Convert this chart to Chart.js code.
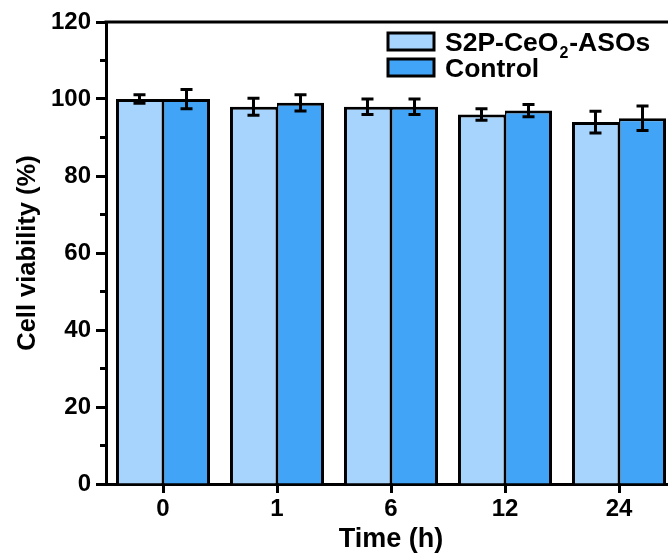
<!DOCTYPE html>
<html>
<head>
<meta charset="utf-8">
<script src="https://cdn.jsdelivr.net/npm/chart.js@4/dist/chart.umd.min.js"></script>
<style>
html,body{margin:0;padding:0;background:#fff;overflow:hidden;width:668px;height:559px;}
#wrap{width:700px;height:559px;}
</style>
</head>
<body>
<div id="wrap"><canvas id="c" width="700" height="559"></canvas></div>
<script>
const categories = ['0', '1', '6', '12', '24'];
const s2pValues = [100, 98, 98, 96, 94];
const s2pErrors = [1.1, 2.2, 2.0, 1.5, 2.8];
const controlValues = [100, 99, 98, 97, 95];
const controlErrors = [2.5, 2.1, 2.0, 1.6, 3.2];
const yTicks = [0, 20, 40, 60, 80, 100, 120];
const yMinorTicks = [10, 30, 50, 70, 90, 110];
const legendLabels = [['S2P-CeO', '2', '-ASOs'], ['Control']];

const LIGHT = '#a7d4fc';
const DARK = '#41a4f7';
const FONT = "'Liberation Sans', Arial, sans-serif";

const errorBars = {
  id: 'errorBars',
  afterDatasetsDraw(chart) {
    const ctx = chart.ctx;
    const y = chart.scales.y;
    const errs = [s2pErrors, controlErrors];
    ctx.save();
    ctx.strokeStyle = '#000';
    ctx.lineWidth = 3;
    chart.data.datasets.forEach((ds, di) => {
      const meta = chart.getDatasetMeta(di);
      meta.data.forEach((bar, i) => {
        const v = ds.data[i], e = errs[di][i];
        const x = bar.x;
        const yt = y.getPixelForValue(v + e), yb = y.getPixelForValue(v - e);
        ctx.beginPath();
        ctx.moveTo(x, yt); ctx.lineTo(x, yb);
        ctx.moveTo(x - 6, yt); ctx.lineTo(x + 6, yt);
        ctx.moveTo(x - 6, yb); ctx.lineTo(x + 6, yb);
        ctx.stroke();
      });
    });
    ctx.restore();
  }
};

const frame = {
  id: 'frame',
  afterDraw(chart) {
    const ctx = chart.ctx, a = chart.chartArea, y = chart.scales.y;
    ctx.save();
    ctx.strokeStyle = '#000';
    ctx.lineWidth = 3;
    ctx.beginPath();
    ctx.moveTo(a.left - 1.5, a.top); ctx.lineTo(a.right + 1.5, a.top);
    ctx.moveTo(a.right, a.top); ctx.lineTo(a.right, a.bottom);
    yMinorTicks.forEach(v => {
      const py = y.getPixelForValue(v);
      ctx.moveTo(a.left - 6, py); ctx.lineTo(a.left, py);
    });
    ctx.stroke();
    // legend
    const boxes = [[388, 33, LIGHT], [388, 59, DARK]];
    ctx.textBaseline = 'middle';
    legendLabels.forEach((parts, i) => {
      const [bx, by, col] = boxes[i];
      ctx.fillStyle = col;
      ctx.fillRect(bx, by, 46, 17);
      ctx.lineWidth = 3;
      ctx.strokeRect(bx, by, 46, 17);
      ctx.fillStyle = '#000';
      let tx = 445;
      const ty = by + 11;
      parts.forEach((p, k) => {
        if (k === 1) {
          ctx.font = 'bold 16px ' + FONT;
          ctx.fillText(p, tx + 1, ty + 10);
          tx += ctx.measureText(p).width + 2;
        } else {
          ctx.font = 'bold 26.5px ' + FONT;
          ctx.fillText(p, tx, ty);
          tx += ctx.measureText(p).width;
        }
      });
    });
    ctx.restore();
  }
};

new Chart(document.getElementById('c'), {
  type: 'bar',
  data: {
    labels: categories,
    datasets: [
      {
        label: 'S2P-CeO2-ASOs',
        data: s2pValues,
        backgroundColor: LIGHT,
        borderColor: '#000',
        borderWidth: {top: 3, left: 3, right: 1.5, bottom: 0},
        borderSkipped: false,
        categoryPercentage: 0.825,
        barPercentage: 1.0
      },
      {
        label: 'Control',
        data: controlValues,
        backgroundColor: DARK,
        borderColor: '#000',
        borderWidth: {top: 3, left: 1.5, right: 3, bottom: 0},
        borderSkipped: false,
        categoryPercentage: 0.825,
        barPercentage: 1.0
      }
    ]
  },
  options: {
    responsive: false,
    animation: false,
    layout: {padding: {top: 22, right: 24, left: 0, bottom: 0}},
    plugins: {legend: {display: false}, tooltip: {enabled: false}},
    scales: {
      x: {
        grid: {offset: false, drawOnChartArea: false, drawTicks: true, tickLength: 9, tickWidth: 3, tickColor: '#000'},
        border: {display: true, width: 3, color: '#000'},
        ticks: {color: '#000', padding: 2, font: {family: FONT, weight: 'bold', size: 24}},
        title: {display: true, text: 'Time (h)', color: '#000', font: {family: FONT, weight: 'bold', size: 27}, padding: {top: 0, bottom: 3}},
        afterFit(s) { s.height = 75; }
      },
      y: {
        min: 0, max: 120,
        afterBuildTicks(s) { s.ticks = yTicks.map(v => ({value: v})); },
        grid: {drawOnChartArea: false, drawTicks: true, tickLength: 10, tickWidth: 3, tickColor: '#000'},
        border: {display: true, width: 3, color: '#000'},
        ticks: {color: '#000', padding: 5, font: {family: FONT, weight: 'bold', size: 24}},
        title: {display: true, text: 'Cell viability (%)', color: '#000', font: {family: FONT, weight: 'bold', size: 25.5}, padding: {top: 13, bottom: 0}},
        afterFit(s) { s.width = 106; }
      }
    }
  },
  plugins: [errorBars, frame]
});
</script>
</body>
</html>
